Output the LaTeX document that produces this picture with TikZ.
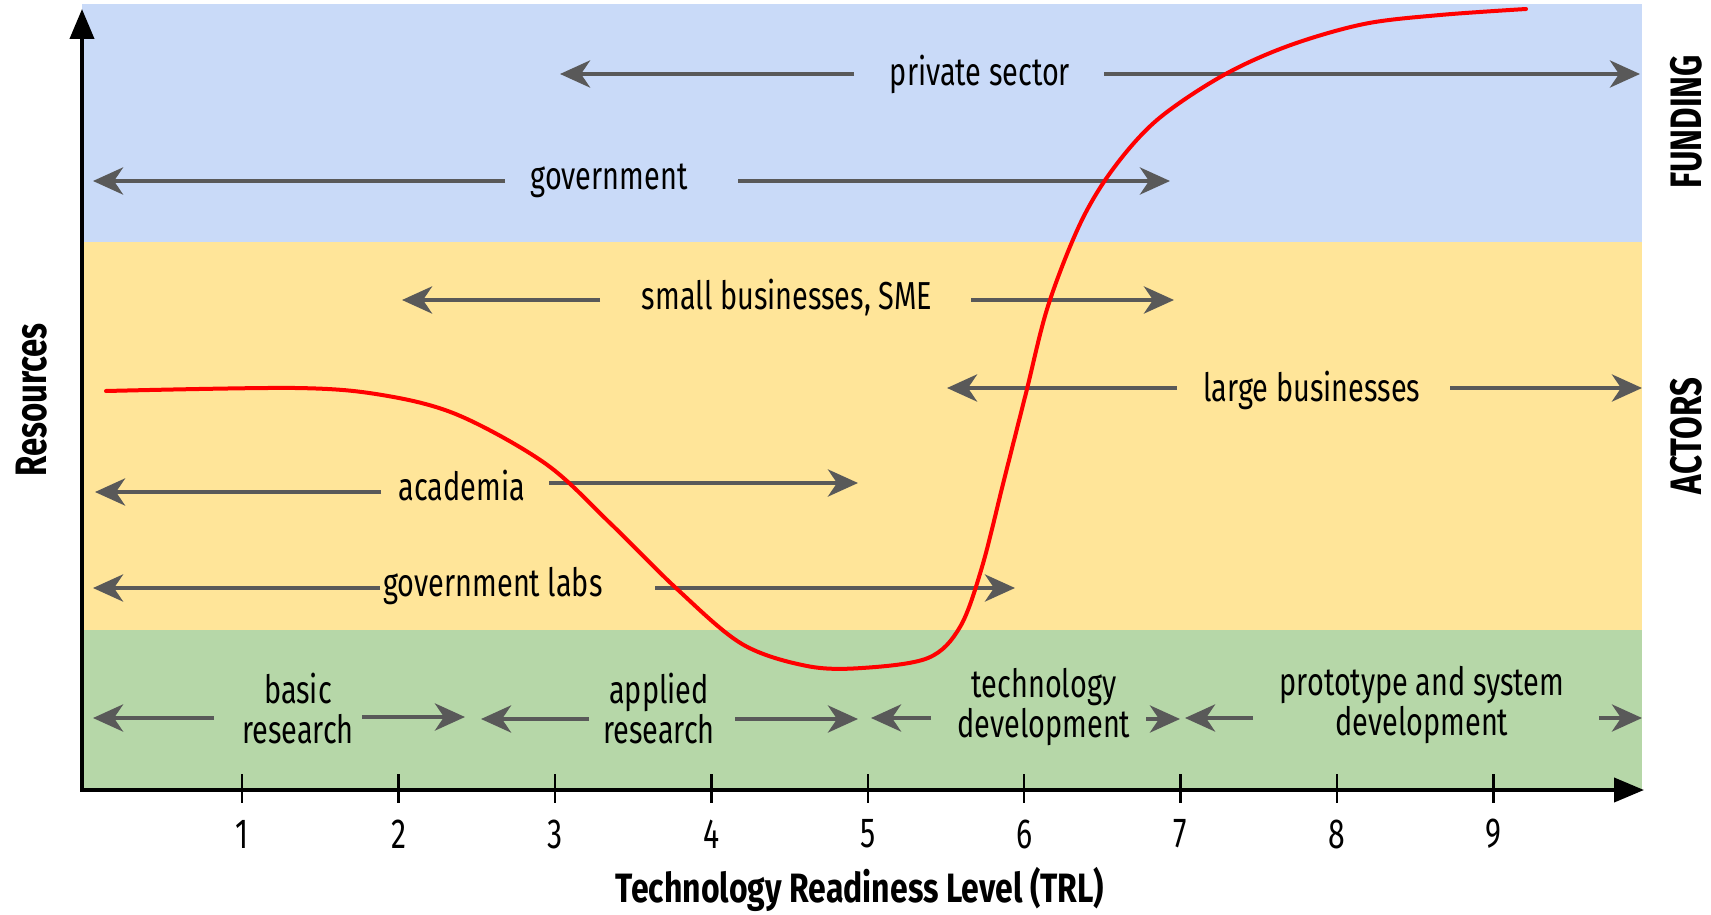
\documentclass[tikz,border=0pt]{standalone}
\usepackage{fontspec}
\setmainfont{Fira Sans}[FakeStretch=0.74]
\newfontfamily\sidefont{Fira Sans}[FakeStretch=0.75]
\newfontfamily\titlefont{Fira Sans}[FakeStretch=0.78]
\newfontfamily\digitfont{Fira Sans}[FakeStretch=0.72]
\usetikzlibrary{arrows.meta}
\definecolor{fundblue}{HTML}{C9DAF8}
\definecolor{actyellow}{HTML}{FFE599}
\definecolor{stagegreen}{HTML}{B6D7A8}
\definecolor{arrowgray}{HTML}{595959}
\begin{document}
\begin{tikzpicture}[x=1pt,y=-1pt,
  lbl/.style={font=\fontsize{39}{40}\selectfont, inner sep=0pt, align=center, text=black},
  boldlbl/.style={font=\titlefont\bfseries\fontsize{41}{44}\selectfont, inner sep=0pt, text=black},
  sidelbl/.style={font=\sidefont\bfseries\fontsize{44}{46}\selectfont, inner sep=0pt, text=black, rotate=90},
  ticklbl/.style={font=\digitfont\fontsize{42}{44}\selectfont, inner sep=0pt},
  span/.style={draw=arrowgray, line width=4.5pt, -{Stealth[length=30pt,width=27pt,inset=9pt]}},
  axisline/.style={draw=black, line width=4pt, -{Triangle[length=30pt,width=24pt]}},
]
\useasboundingbox (0,0) rectangle (1711,915);
% bands
\fill[fundblue] (82,4) rectangle (1642,242);
\fill[actyellow] (82,242) rectangle (1642,630);
\fill[stagegreen] (82,630) rectangle (1642,790);

% ticks
\foreach \n in {1,...,9}{
  \draw[line width=2.5pt] ({242.2+(\n-1)*156.4},774) -- ({242.2+(\n-1)*156.4},803);
  \node[ticklbl] (t\n) at ({242.2+(\n-1)*156.4},834) {\n};
}
% axes
\coordinate (origin) at (82,790);
\coordinate (ytop) at (82,9);
\coordinate (xend) at (1644,790);
\draw[axisline] (origin) -- (ytop);
\draw[axisline] ([xshift=-2pt]origin) -- (xend);

\node[boldlbl] (xtitle) at (860,889) {Technology Readiness Level (TRL)};
\node[sidelbl] (ytitle) at (32,400) {Resources};
\node[sidelbl] (funding) at (1686,122) {FUNDING};
\node[sidelbl] (actors) at (1686,436) {ACTORS};

% funding arrows
\node[lbl] (priv) at (980,74) {private sector};
\coordinate (privL0) at (854,74); \coordinate (privL1) at (560,74);
\coordinate (privR0) at (1104,74); \coordinate (privR1) at (1640,74);
\draw[span] (privL0) -- (privL1);
\draw[span] (privR0) -- (privR1);

\node[lbl] (gov) at (609,181) {government};
\coordinate (govL0) at (505,181); \coordinate (govL1) at (93,181);
\coordinate (govR0) at (738,181); \coordinate (govR1) at (1170,181);
\draw[span] (govL0) -- (govL1);
\draw[span] (govR0) -- (govR1);

% actors arrows
\node[lbl] (sme) at (787,298) {small businesses, SME};
\coordinate (smeL0) at (600,300); \coordinate (smeL1) at (402,300);
\coordinate (smeR0) at (971,300); \coordinate (smeR1) at (1174,300);
\draw[span] (smeL0) -- (smeL1);
\draw[span] (smeR0) -- (smeR1);

\node[lbl] (large) at (1312,390) {large businesses};
\coordinate (largeL0) at (1177,388); \coordinate (largeL1) at (947,388);
\coordinate (largeR0) at (1450,388); \coordinate (largeR1) at (1642,388);
\draw[span] (largeL0) -- (largeL1);
\draw[span] (largeR0) -- (largeR1);

\node[lbl] (acad) at (462,486) {academia};
\coordinate (acadL0) at (381,492); \coordinate (acadL1) at (95,492);
\coordinate (acadR0) at (549,483); \coordinate (acadR1) at (858,483);
\draw[span] (acadL0) -- (acadL1);
\draw[span] (acadR0) -- (acadR1);

\node[lbl] (labs) at (493,586) {government labs};
\coordinate (labsL0) at (380,588); \coordinate (labsL1) at (93,588);
\coordinate (labsR0) at (655,588); \coordinate (labsR1) at (1015,588);
\draw[span] (labsL0) -- (labsL1);
\draw[span] (labsR0) -- (labsR1);

% stages
\node[lbl] (basic) at (298,709) {basic\\research};
\coordinate (basL0) at (214,718); \coordinate (basL1) at (93,718);
\coordinate (basR0) at (362,717); \coordinate (basR1) at (465,717);
\draw[span] (basL0) -- (basL1);
\draw[span] (basR0) -- (basR1);

\node[lbl] (applied) at (659,709) {applied\\research};
\coordinate (appL0) at (589,719); \coordinate (appL1) at (481,719);
\coordinate (appR0) at (735,719); \coordinate (appR1) at (858,719);
\draw[span] (appL0) -- (appL1);
\draw[span] (appR0) -- (appR1);

\node[lbl] (techdev) at (1044,707) {technology\\development};
\coordinate (tdL0) at (931,718); \coordinate (tdL1) at (871,718);
\coordinate (tdR0) at (1146,719); \coordinate (tdR1) at (1180,719);
\draw[span] (tdL0) -- (tdL1);
\draw[span] (tdR0) -- (tdR1);

\node[lbl] (proto) at (1422,705) {prototype and system\\development};
\coordinate (prL0) at (1253,718); \coordinate (prL1) at (1185,718);
\coordinate (prR0) at (1599,718); \coordinate (prR1) at (1642,718);
\draw[span] (prL0) -- (prL1);
\draw[span] (prR0) -- (prR1);

% resource curve
\draw[red, line width=4pt, line cap=round] plot[smooth, tension=0.55] coordinates {
(106,391) (295,388) (382,395) (458,415) (546,464) (611,524) (677,589) (742,644)
(807,666) (862,668) (928,658) (960,627) (982,567) (1004,480) (1026,393) (1048,306)
(1080,224) (1113,169) (1157,120) (1222,76) (1288,46) (1364,24) (1440,15) (1526,9)};
\end{tikzpicture}
\end{document}
